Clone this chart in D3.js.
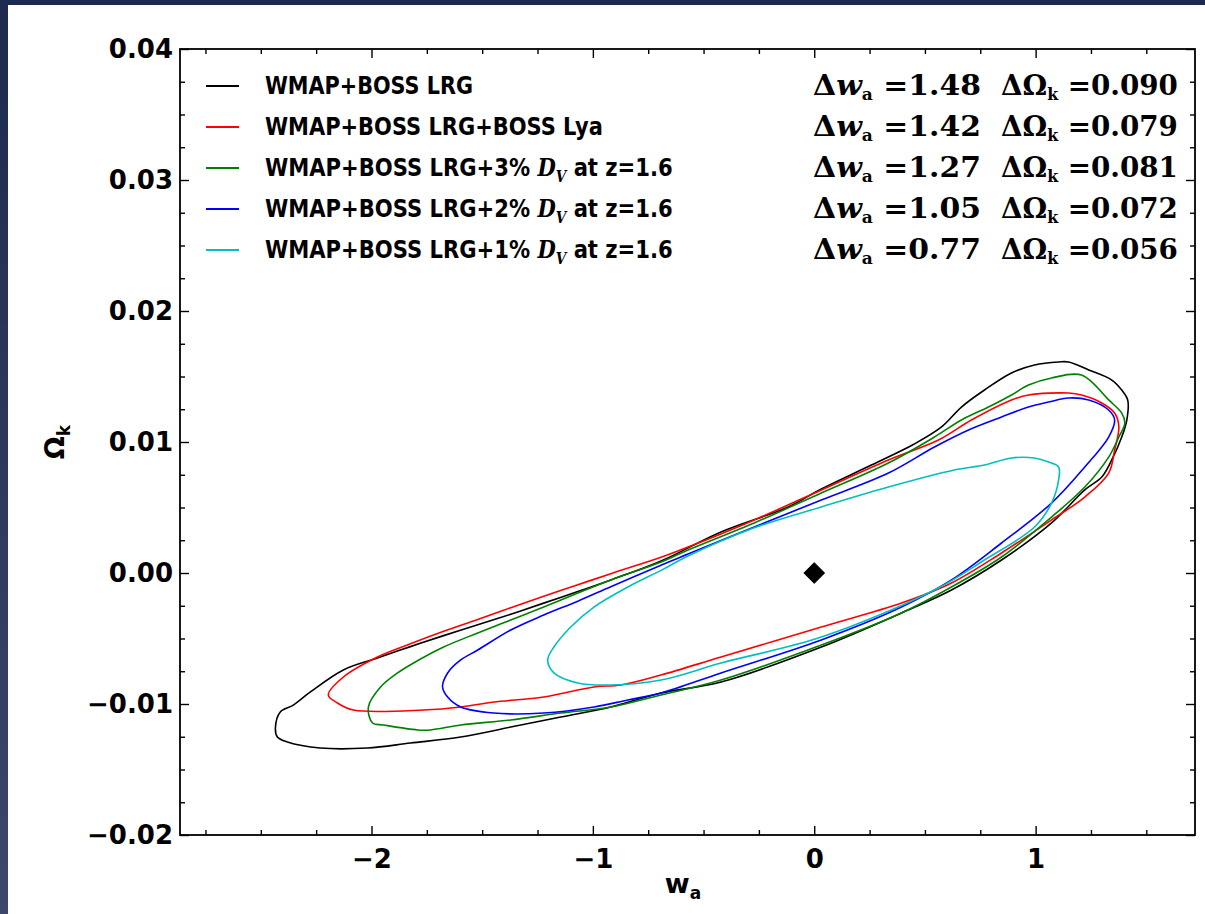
<!DOCTYPE html>
<html><head><meta charset="utf-8">
<script src="https://cdn.jsdelivr.net/npm/d3@7"></script>
<style>body{margin:0;background:#fff}svg{display:block}</style>
</head><body><svg id="c" width="1205" height="914"></svg>
<script>
// ---------------- data ----------------
const seriesNames = [
  "WMAP+BOSS LRG",
  "WMAP+BOSS LRG+BOSS Lya",
  "WMAP+BOSS LRG+3% D_V at z=1.6",
  "WMAP+BOSS LRG+2% D_V at z=1.6",
  "WMAP+BOSS LRG+1% D_V at z=1.6"
];
const seriesColors = ["#000000", "#ff0000", "#008000", "#0000ff", "#00bfbf"];
const deltaWa = ["1.48", "1.42", "1.27", "1.05", "0.77"];
const deltaOk = ["0.090", "0.079", "0.081", "0.072", "0.056"];

// contour outlines, [w_a, Omega_k]
const contourLRG = [[-2.434,-0.01183],[-2.412,-0.01061],[-2.353,-0.01008],[-2.276,-0.00908],[-2.127,-0.00740],[-1.973,-0.00649],[-1.824,-0.00562],[-1.674,-0.00478],[-1.520,-0.00395],[-1.371,-0.00315],[-1.222,-0.00230],[-1.068,-0.00142],[-0.919,-0.00053],[-0.692,0.00092],[-0.421,0.00313],[-0.118,0.00504],[0.032,0.00641],[0.258,0.00824],[0.452,0.00985],[0.575,0.01115],[0.665,0.01267],[0.769,0.01397],[0.891,0.01527],[0.995,0.01588],[1.104,0.01611],[1.149,0.01611],[1.240,0.01550],[1.344,0.01473],[1.389,0.01397],[1.416,0.01321],[1.412,0.01168],[1.389,0.01038],[1.344,0.00863],[1.299,0.00733],[1.222,0.00634],[1.072,0.00382],[0.846,0.00099],[0.620,-0.00130],[0.394,-0.00305],[0.032,-0.00565],[-0.421,-0.00832],[-0.692,-0.00916],[-0.919,-0.01023],[-1.145,-0.01099],[-1.371,-0.01176],[-1.597,-0.01252],[-1.824,-0.01298],[-2.018,-0.01336],[-2.231,-0.01336],[-2.380,-0.01290],[-2.425,-0.01252]];
const contourLya = [[-2.195,-0.00931],[-2.127,-0.00794],[-1.973,-0.00641],[-1.824,-0.00540],[-1.674,-0.00445],[-1.520,-0.00355],[-1.371,-0.00265],[-1.222,-0.00178],[-1.068,-0.00090],[-0.919,-0.00005],[-0.692,0.00120],[-0.570,0.00198],[-0.271,0.00405],[0.032,0.00634],[0.335,0.00863],[0.561,0.01015],[0.710,0.01168],[0.891,0.01321],[0.968,0.01359],[1.149,0.01374],[1.208,0.01359],[1.299,0.01298],[1.357,0.01221],[1.376,0.01115],[1.357,0.00939],[1.330,0.00763],[1.222,0.00580],[1.072,0.00405],[0.846,0.00153],[0.620,-0.00076],[0.394,-0.00229],[0.032,-0.00412],[-0.421,-0.00641],[-0.692,-0.00779],[-0.873,-0.00855],[-0.995,-0.00870],[-1.222,-0.00947],[-1.448,-0.00985],[-1.597,-0.01023],[-1.765,-0.01046],[-2.081,-0.01046],[-2.154,-0.00992]];
const contourDV3 = [[-2.014,-0.01023],[-1.959,-0.00870],[-1.882,-0.00763],[-1.810,-0.00687],[-1.674,-0.00565],[-1.520,-0.00458],[-1.371,-0.00359],[-1.222,-0.00260],[-1.068,-0.00153],[-0.919,-0.00053],[-0.692,0.00084],[-0.570,0.00176],[-0.271,0.00382],[0.032,0.00611],[0.335,0.00840],[0.543,0.01038],[0.665,0.01168],[0.787,0.01267],[0.891,0.01359],[0.968,0.01435],[1.072,0.01489],[1.208,0.01511],[1.330,0.01321],[1.389,0.01221],[1.403,0.01145],[1.376,0.01038],[1.330,0.00885],[1.222,0.00656],[1.072,0.00427],[0.846,0.00122],[0.620,-0.00107],[0.394,-0.00305],[0.032,-0.00550],[-0.421,-0.00817],[-0.692,-0.00931],[-0.919,-0.01023],[-1.145,-0.01069],[-1.371,-0.01122],[-1.597,-0.01160],[-1.733,-0.01198],[-1.792,-0.01198],[-1.946,-0.01160],[-1.995,-0.01145]];
const contourDV2 = [[-1.679,-0.00870],[-1.656,-0.00763],[-1.597,-0.00664],[-1.520,-0.00588],[-1.371,-0.00435],[-1.222,-0.00321],[-1.068,-0.00215],[-0.919,-0.00105],[-0.692,0.00060],[-0.570,0.00145],[-0.271,0.00351],[0.032,0.00557],[0.335,0.00763],[0.543,0.00962],[0.697,0.01092],[0.846,0.01191],[0.968,0.01267],[1.059,0.01305],[1.149,0.01336],[1.240,0.01321],[1.330,0.01244],[1.357,0.01168],[1.330,0.01038],[1.222,0.00809],[1.072,0.00534],[0.846,0.00229],[0.620,-0.00053],[0.394,-0.00260],[0.032,-0.00511],[-0.421,-0.00763],[-0.692,-0.00916],[-0.842,-0.00969],[-0.995,-0.01023],[-1.222,-0.01069],[-1.448,-0.01069],[-1.597,-0.01023],[-1.656,-0.00947]];
const contourDV1 = [[-1.204,-0.00664],[-1.176,-0.00565],[-1.100,-0.00412],[-0.995,-0.00260],[-0.842,-0.00107],[-0.692,0.00020],[-0.570,0.00130],[-0.271,0.00345],[0.032,0.00504],[0.335,0.00656],[0.633,0.00786],[0.769,0.00824],[0.891,0.00878],[0.995,0.00878],[1.059,0.00847],[1.104,0.00809],[1.104,0.00710],[1.072,0.00534],[0.995,0.00351],[0.769,0.00099],[0.543,-0.00130],[0.032,-0.00489],[-0.421,-0.00687],[-0.692,-0.00817],[-0.919,-0.00855],[-1.068,-0.00840],[-1.176,-0.00763]];
const contours = [contourLRG, contourLya, contourDV3, contourDV2, contourDV1];
const fiducial = [[0, 0]];

const xDomain = [-2.865, 1.72];
const yDomain = [-0.02, 0.04];
const xMajorTicks = [-2, -1, 0, 1];
const yMajorTicks = [-0.02, -0.01, 0.00, 0.01, 0.02, 0.03, 0.04];
const xMinorStep = 0.25;
const yMinorStep = 0.0025;

// ---------------- drawing ----------------
const svg = d3.select("#c");
const W = 1205, H = 914;
const M = {left: 180, right: 1195, top: 49, bottom: 835};
const x = d3.scaleLinear().domain(xDomain).range([M.left, M.right]);
const y = d3.scaleLinear().domain(yDomain).range([M.bottom, M.top]);

const defs = svg.append("defs");
const g = defs.append("linearGradient").attr("id", "bg").attr("x1", 0).attr("y1", 0).attr("x2", 0).attr("y2", 1);
g.append("stop").attr("offset", "0%").attr("stop-color", "#1d2a4f");
g.append("stop").attr("offset", "100%").attr("stop-color", "#3b4869");
svg.append("rect").attr("width", W).attr("height", H).attr("fill", "url(#bg)");
svg.append("rect").attr("x", 8).attr("y", 5).attr("width", W - 8).attr("height", H - 5).attr("fill", "#fff");

const sansB = "'DejaVu Sans', 'Liberation Sans', sans-serif";
const serif = "'DejaVu Serif', 'Liberation Serif', serif";

// minor tick values
const xMinor = d3.range(Math.ceil(xDomain[0] / xMinorStep), Math.floor(xDomain[1] / xMinorStep) + 1)
  .map(k => k * xMinorStep).filter(v => Math.abs(v - Math.round(v)) > 1e-9);
const yMinor = d3.range(Math.ceil(yDomain[0] / yMinorStep - 1e-9), Math.floor(yDomain[1] / yMinorStep + 1e-9) + 1)
  .map(k => k * yMinorStep).filter(v => Math.abs(v / 0.01 - Math.round(v / 0.01)) > 1e-6);

function styleAxis(sel) {
  sel.select(".domain").remove();
  sel.selectAll(".tick line").attr("stroke", "#000").attr("stroke-width", 1.4);
  sel.selectAll(".tick text").attr("font-family", sansB).attr("font-weight", "bold")
    .attr("font-size", 26).attr("fill", "#000");
}
const fmtY = d3.format(".2f"), fmtX = d3.format("d");

// bottom
svg.append("g").attr("transform", `translate(0,${M.bottom})`)
  .call(d3.axisBottom(x).tickValues(xMajorTicks).tickSize(-9).tickPadding(15).tickFormat(fmtX)).call(styleAxis);
svg.append("g").attr("transform", `translate(0,${M.bottom})`)
  .call(d3.axisBottom(x).tickValues(xMinor).tickSize(-5).tickFormat("")).call(styleAxis);
// top
svg.append("g").attr("transform", `translate(0,${M.top})`)
  .call(d3.axisTop(x).tickValues(xMajorTicks).tickSize(-9).tickFormat("")).call(styleAxis);
svg.append("g").attr("transform", `translate(0,${M.top})`)
  .call(d3.axisTop(x).tickValues(xMinor).tickSize(-5).tickFormat("")).call(styleAxis);
// left
svg.append("g").attr("transform", `translate(${M.left},0)`)
  .call(d3.axisLeft(y).tickValues(yMajorTicks).tickSize(-9).tickPadding(7).tickFormat(fmtY)).call(styleAxis);
svg.append("g").attr("transform", `translate(${M.left},0)`)
  .call(d3.axisLeft(y).tickValues(yMinor).tickSize(-5).tickFormat("")).call(styleAxis);
// right
svg.append("g").attr("transform", `translate(${M.right},0)`)
  .call(d3.axisRight(y).tickValues(yMajorTicks).tickSize(-9).tickFormat("")).call(styleAxis);
svg.append("g").attr("transform", `translate(${M.right},0)`)
  .call(d3.axisRight(y).tickValues(yMinor).tickSize(-5).tickFormat("")).call(styleAxis);

// frame
svg.append("rect").attr("x", M.left).attr("y", M.top).attr("width", M.right - M.left)
  .attr("height", M.bottom - M.top).attr("fill", "none").attr("stroke", "#000").attr("stroke-width", 1.8);

// contours
const line = d3.line().x(d => x(d[0])).y(d => y(d[1])).curve(d3.curveCatmullRomClosed.alpha(0.5));
svg.append("g").selectAll("path").data(contours).join("path")
  .attr("d", line).attr("fill", "none")
  .attr("stroke", (d, i) => seriesColors[i]).attr("stroke-width", 1.6)
  .attr("stroke-linejoin", "round");

// fiducial diamond
svg.append("g").selectAll("path").data(fiducial).join("path")
  .attr("d", d3.symbol(d3.symbolSquare, 210))
  .attr("transform", d => `translate(${x(d[0])},${y(d[1])}) rotate(45)`)
  .attr("fill", "#000").attr("stroke", "#000").attr("stroke-width", 1).attr("stroke-linejoin", "round");

// helper to stretch text horizontally to a target width
function fit(sel, x0, target) {
  const w = sel.node().getBBox().width;
  if (w > 0) sel.attr("transform", `translate(${x0},0) scale(${target / w},1) translate(${-x0},0)`);
}

// legend
const legendWidths = [208, 338, 408, 408, 408];
seriesNames.forEach((name, i) => {
  const by = 94 + i * 41;
  svg.append("line").attr("x1", 206).attr("x2", 239).attr("y1", by - 8).attr("y2", by - 8)
    .attr("stroke", seriesColors[i]).attr("stroke-width", 2.2);
  const t = svg.append("text").attr("x", 265).attr("y", by)
    .attr("font-family", sansB).attr("font-weight", "bold").attr("font-size", 25).attr("fill", "#000");
  const parts = name.split("D_V");
  t.append("tspan").text(parts[0]);
  if (parts.length > 1) {
    t.append("tspan").attr("font-family", serif).attr("font-style", "italic").attr("font-weight", "bold").text("D");
    t.append("tspan").attr("font-family", serif).attr("font-style", "italic").attr("font-size", 16).attr("dy", 6).text("V");
    t.append("tspan").attr("dy", -6).text(parts[1]);
  }
  fit(t, 265, legendWidths[i]);

  // right-hand annotations
  const a = svg.append("text").attr("x", 813).attr("y", by + 1)
    .attr("font-family", serif).attr("font-weight", "bold").attr("font-size", 28).attr("fill", "#000");
  a.append("tspan").text("\u0394");
  a.append("tspan").attr("font-style", "italic").text("w");
  a.append("tspan").attr("font-size", 16).attr("dy", 5).text("a");
  a.append("tspan").attr("dy", -5).text(" =" + deltaWa[i]);
  fit(a, 813, 168);

  const b = svg.append("text").attr("x", 1001).attr("y", by + 1)
    .attr("font-family", serif).attr("font-weight", "bold").attr("font-size", 28).attr("fill", "#000");
  b.append("tspan").text("\u0394\u03A9");
  b.append("tspan").attr("font-size", 16).attr("dy", 5).text("k");
  b.append("tspan").attr("dy", -5).text(" =" + deltaOk[i]);
  fit(b, 1001, 177);
});

// axis labels
const xl = svg.append("text").attr("x", 683).attr("y", 893).attr("text-anchor", "middle")
  .attr("font-family", sansB).attr("font-weight", "bold").attr("font-size", 27).attr("fill", "#000");
xl.append("tspan").text("w");
xl.append("tspan").attr("font-size", 17).attr("dy", 6).text("a");

const yl = svg.append("text").attr("transform", `translate(64,${(M.top + M.bottom) / 2}) rotate(-90)`)
  .attr("text-anchor", "middle")
  .attr("font-family", sansB).attr("font-weight", "bold").attr("font-size", 27).attr("fill", "#000");
yl.append("tspan").text("\u03A9");
yl.append("tspan").attr("font-size", 17).attr("dy", 6).text("k");
</script></body></html>
